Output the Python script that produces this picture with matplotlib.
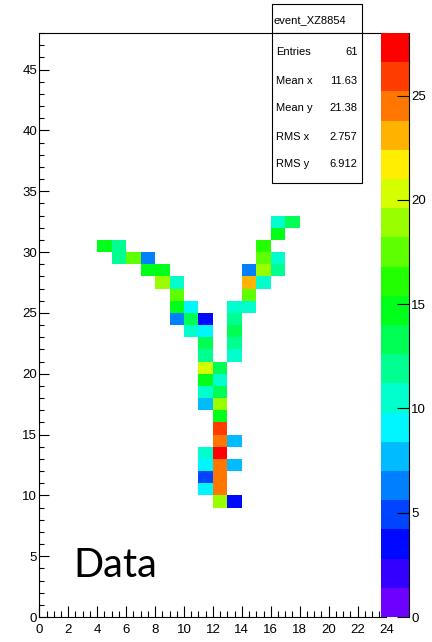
import colorsys
import numpy as np
import matplotlib
matplotlib.use("Agg")
import matplotlib.pyplot as plt
from matplotlib.colors import ListedColormap, BoundaryNorm
from matplotlib.patches import Rectangle
from matplotlib.lines import Line2D

plt.rcParams['font.family'] = ['Liberation Sans', 'DejaVu Sans']

# ---------------- data (bin lower edges and contents) ----------------
x_bins = [4, 5, 5, 6, 7, 7, 8, 8, 9, 9, 9, 10, 9, 10, 11, 10, 11, 11, 11,
          16, 17, 16, 15, 15, 16, 14, 15, 16, 14, 15, 14, 13, 14, 13, 13, 13, 13,
          11, 12, 11, 12, 11, 12, 11, 12, 12, 12, 12, 13, 11, 12, 11, 12, 13,
          11, 12, 11, 12, 12, 13]
y_bins = [30, 30, 29, 29, 29, 28, 28, 27, 27, 26, 25, 25, 24, 24, 24, 23, 23, 22, 21,
          32, 32, 31, 30, 29, 29, 28, 28, 28, 27, 27, 26, 25, 25, 24, 23, 22, 21,
          20, 20, 19, 19, 18, 18, 17, 17, 16, 15, 14, 14, 13, 13, 12, 12, 12,
          11, 11, 10, 10, 9, 9]
values = [14.7, 11.9, 11.9, 17.5, 6.3, 14.7, 14.7, 18.9, 10.5, 17.5, 14.7, 9.1, 6.3, 13.3, 3.5, 10.5, 9.1, 13.3, 11.9,
          10.5, 13.3, 14.7, 16.1, 17.5, 10.5, 6.3, 18.9, 11.9, 23.1, 10.5, 17.5, 10.5, 10.5, 11.9, 13.3, 11.9, 10.5,
          20.3, 13.3, 14.7, 10.5, 10.5, 13.3, 7.7, 18.9, 14.7, 25.9, 24.5, 7.7, 10.5, 27.3, 9.1, 24.5, 7.7,
          4.9, 24.5, 9.1, 24.5, 18.9, 3.5]

x_ticks = list(range(0, 25, 2))
y_ticks = list(range(0, 46, 5))
z_ticks = [0, 5, 10, 15, 20, 25]
stat_names = ["Entries", "Mean x", "Mean y", "RMS x", "RMS y"]
stat_values = ["61", "11.63", "21.38", "2.757", "6.912"]
hist_title = "event_XZ8854"
label_text = "Data"

# ---------------- figure ----------------
W, H = 432, 642
fig = plt.figure(figsize=(W / 100, H / 100), dpi=100)


def fx(px):
    return px / W


def fy(py):
    return 1 - py / H


ax = fig.add_axes([fx(39.3), fy(617), (386.5 - 39.3) / W, (617 - 33) / H])

nx, ny, zmax, ncont = 24, 48, 28.0, 20
grid = np.zeros((ny, nx))
for xb, yb, v in zip(x_bins, y_bins, values):
    grid[yb, xb] += v
grid = np.ma.masked_equal(grid, 0)

cols = [colorsys.hls_to_rgb((280 - 14 * (k + 1)) / 360.0, 0.5, 1.0) for k in range(ncont)]
cmap = ListedColormap(cols)
levels = np.linspace(0, zmax, ncont + 1)
norm = BoundaryNorm(levels, cmap.N)

mesh = ax.pcolormesh(np.arange(nx + 1), np.arange(ny + 1), grid, cmap=cmap, norm=norm)
ax.set_xlim(0, 24)
ax.set_ylim(0, 48)
ax.set_xticks(x_ticks)
ax.set_xticks(np.arange(0, 24.01, 0.5), minor=True)
ax.set_yticks(y_ticks)
ax.set_yticks(np.arange(0, 48.01, 1), minor=True)
ax.tick_params(axis='both', which='both', direction='in', width=0.8, labelsize=9.5,
               top=False, right=False)
ax.tick_params(axis='x', which='major', length=8, pad=5)
ax.tick_params(axis='x', which='minor', length=4)
ax.tick_params(axis='y', which='major', length=7.5, pad=1.5)
ax.tick_params(axis='y', which='minor', length=3.8)
for s in ax.spines.values():
    s.set_linewidth(0.8)
ax.spines['right'].set_visible(False)

# ---------------- palette ----------------
cax = fig.add_axes([fx(380.7), fy(617), 28.6 / W, (617 - 33) / H])
cax.set_zorder(5)
cb = fig.colorbar(mesh, cax=cax, ticks=z_ticks)
cb.outline.set_visible(False)
cax.tick_params(axis='y', which='major', direction='in', length=8.4, width=0.8,
                labelsize=9.5, pad=1.5, right=True, left=False)
cax.tick_params(axis='y', which='minor', length=0)
cax.add_line(Line2D([1, 1], [0, 1], transform=cax.transAxes, color='black', lw=0.8,
                    clip_on=False))

# ---------------- stats box ----------------
bx0, bx1 = 271.7, 362.3
ty0, ty1, by1 = 4, 32.5, 183
fig.patches.append(Rectangle((fx(bx0), fy(ty1)), (bx1 - bx0) / W, (ty1 - ty0) / H,
                             transform=fig.transFigure, facecolor='white',
                             edgecolor='black', lw=0.8, zorder=10))
fig.patches.append(Rectangle((fx(bx0), fy(by1)), (bx1 - bx0) / W, (by1 - ty1) / H,
                             transform=fig.transFigure, facecolor='white',
                             edgecolor='black', lw=0.8, zorder=10))
fig.text(fx(273.5), fy(20.5), hist_title, fontsize=8.0, va='center', ha='left', zorder=11)
row_y = [51.7, 80.7, 108.3, 136.7, 164]
for name, val, yy in zip(stat_names, stat_values, row_y):
    fig.text(fx(276), fy(yy), name, fontsize=8.0, va='center', ha='left', zorder=11)
    fig.text(fx(357.5), fy(yy), val, fontsize=8.0, va='center', ha='right', zorder=11)

# ---------------- overlay label ----------------
fig.text(fx(73), fy(576.7), label_text, fontsize=28.5, family=['Lato', 'DejaVu Sans'],
         ha='left', va='baseline', zorder=11)

fig.savefig("out.png", dpi=100)
